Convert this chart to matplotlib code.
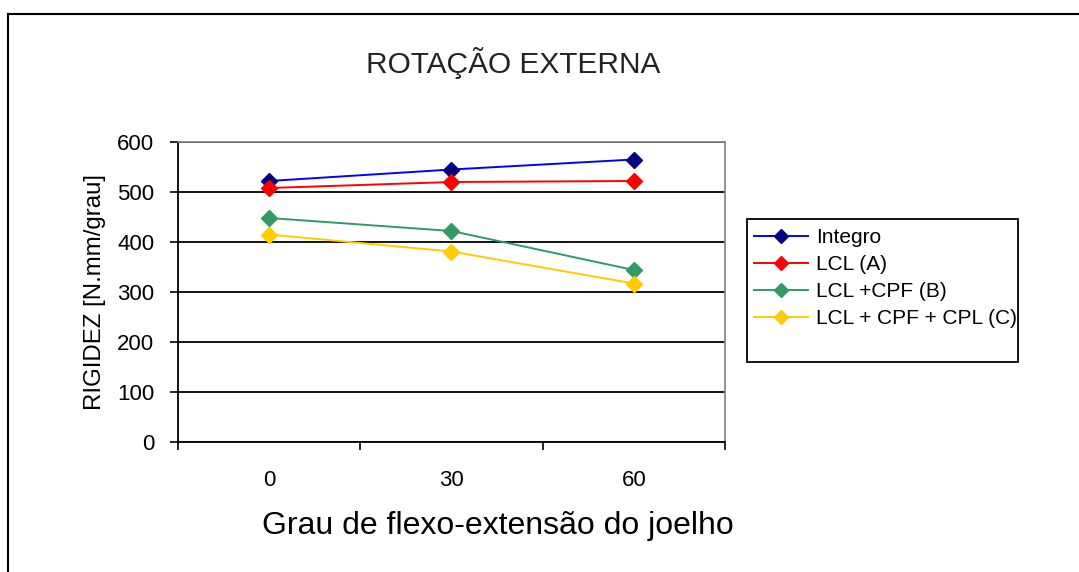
import matplotlib
matplotlib.use("Agg")
import matplotlib.pyplot as plt
from matplotlib.lines import Line2D
from matplotlib.patches import Rectangle

plt.rcParams['font.family'] = ['Liberation Sans', 'DejaVu Sans']

# Knee flexion angles (categories) and stiffness per condition
angles = ["0", "30", "60"]
integro = [522, 545, 565]
lcl_a = [508, 520, 522]
lcl_cpf_b = [448, 422, 344]
lcl_cpf_cpl_c = [415, 381, 317]

series_names = ["Integro", "LCL (A)", "LCL +CPF (B)", "LCL + CPF + CPL (C)"]
line_colors = ["#0000FF", "#FF0000", "#339966", "#FFCC00"]
marker_colors = ["#000080", "#FF0000", "#339966", "#FFCC00"]
y_ticks = [0, 100, 200, 300, 400, 500, 600]

W, H = 1079, 572
fig = plt.figure(figsize=(W / 100, H / 100), dpi=100)
fig.patch.set_facecolor("white")

ax = fig.add_axes([178 / W, 1 - 442 / H, (725 - 178) / W, (442 - 142) / H])
ax.set_facecolor("white")

x = list(range(len(angles)))
for vals, lc, mc, name in zip([integro, lcl_a, lcl_cpf_b, lcl_cpf_cpl_c],
                              line_colors, marker_colors, series_names):
    ax.plot(x, vals, color=lc, lw=1.4, marker="D", markersize=8.5,
            markerfacecolor=mc, markeredgecolor=mc, label=name, zorder=3)

ax.set_xlim(-0.5, len(angles) - 0.5)
ax.set_ylim(0, 600)
ax.set_yticks(y_ticks)
ax.set_yticklabels([str(v) for v in y_ticks], fontsize=16)
ax.set_xticks(x)
ax.set_xticklabels(angles, fontsize=16)
ax.set_xticks([i - 0.5 for i in range(len(angles) + 1)], minor=True)
ax.tick_params(axis="x", which="major", length=0, pad=20)
ax.tick_params(axis="x", which="minor", length=6, width=1.2, color="black")
ax.tick_params(axis="y", which="major", length=6, width=1.2, direction="out", pad=11)

ax.grid(axis="y", color="black", lw=1.3, zorder=1)
ax.set_axisbelow(True)
for side in ["top", "right"]:
    ax.spines[side].set_color("#808080")
    ax.spines[side].set_linewidth(1.2)
for side in ["left", "bottom"]:
    ax.spines[side].set_color("black")
    ax.spines[side].set_linewidth(1.3)

ax.set_ylabel("RIGIDEZ [N.mm/grau]", fontsize=17.3, labelpad=8)
ax.set_xlabel("Grau de flexo-extensão do joelho", fontsize=23)
ax.xaxis.label.set_verticalalignment("center")
ax.xaxis.set_label_coords(0.585, -0.28)

fig.text(513 / W, 1 - 63 / H, "ROTAÇÃO EXTERNA", fontsize=21.5, color="#222222",
         ha="center", va="center")

# Chart frame (top and left edges)
fig.add_artist(Line2D([8 / W, 1.0], [1 - 14 / H, 1 - 14 / H], color="black", lw=1.5,
                      transform=fig.transFigure))
fig.add_artist(Line2D([8 / W, 8 / W], [1 - 14 / H, 0.0], color="black", lw=1.5,
                      transform=fig.transFigure))

# Legend box and entries
fig.add_artist(Rectangle((747 / W, 1 - 362 / H), (1018 - 747) / W, (362 - 219) / H,
                         transform=fig.transFigure, facecolor="white",
                         edgecolor="black", lw=1.3, zorder=4))
handles, labels = ax.get_legend_handles_labels()
leg = fig.legend(handles, labels, loc="upper left",
                 bbox_to_anchor=(750 / W, 1 - 224 / H),
                 bbox_transform=fig.transFigure,
                 fontsize=15, frameon=False, borderaxespad=0,
                 handlelength=2.6, handletextpad=0.35, labelspacing=0.38,
                 borderpad=0.2, markerscale=0.85)
leg.set_zorder(5)

fig.savefig("out.png", dpi=100, facecolor="white")
